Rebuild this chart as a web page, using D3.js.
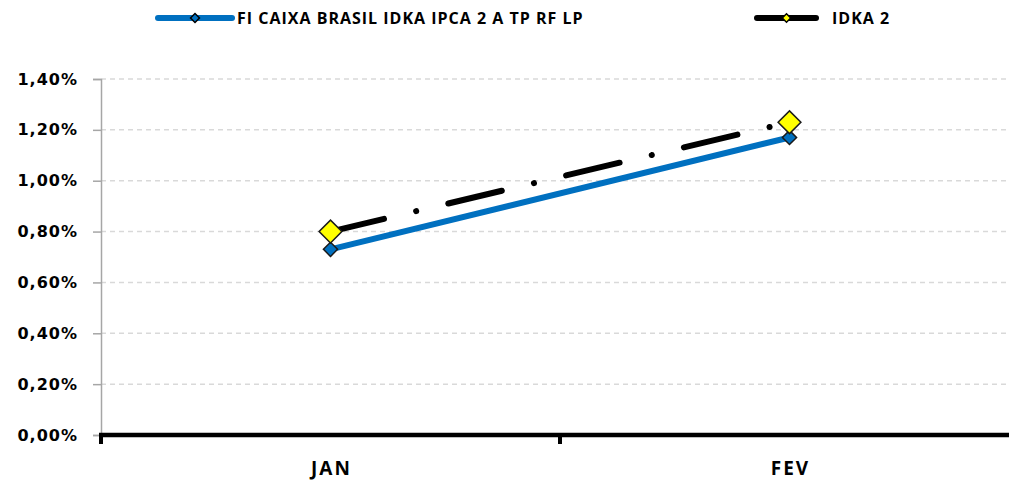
<!DOCTYPE html>
<html>
<head>
<meta charset="utf-8">
<script src="https://cdn.jsdelivr.net/npm/d3@7"></script>
<style>
  body { margin: 0; background: #fff; }
  svg { display: block; }
  .tick-label { font-family: "DejaVu Sans", sans-serif; font-weight: bold; font-size: 16px; letter-spacing: 1px; fill: #000; }
  .x-label { font-family: "Open Sans", sans-serif; font-weight: bold; font-size: 19px; letter-spacing: 2px; fill: #000; }
  .legend-text { font-family: "Open Sans", sans-serif; font-weight: bold; font-size: 16px; letter-spacing: 1px; fill: #000; }
</style>
</head>
<body>
<div id="chart"></div>
<script>
const months = ["JAN", "FEV"];
const fundValues = [0.0073, 0.0117];
const idkaValues = [0.0080, 0.0123];
const yTicks = [0, 0.002, 0.004, 0.006, 0.008, 0.010, 0.012, 0.014];
const seriesNames = ["FI CAIXA BRASIL IDKA IPCA 2 A TP RF LP", "IDKA 2"];

const width = 1009, height = 480;
const margin = {top: 79, right: 0, bottom: 45, left: 101};

const svg = d3.select("#chart").append("svg")
    .attr("width", width)
    .attr("height", height);

const yScale = d3.scaleLinear()
    .domain([0, 0.014])
    .range([height - margin.bottom, margin.top]);

// band continues past the right edge like the original
const xScale = d3.scaleBand()
    .domain(months)
    .range([margin.left, 1019])
    .padding(0);

const fmt = d => (d * 100).toFixed(2).replace(".", ",") + "%";

// gridlines
svg.append("g")
    .selectAll("line")
    .data(yTicks.filter(d => d > 0))
    .join("line")
    .attr("x1", margin.left)
    .attr("x2", width)
    .attr("y1", d => yScale(d))
    .attr("y2", d => yScale(d))
    .attr("stroke", "#d9d9d9")
    .attr("stroke-width", 1.5)
    .attr("stroke-dasharray", "5,4");

// y axis
const yAxis = d3.axisLeft(yScale)
    .tickValues(yTicks)
    .tickSize(8)
    .tickPadding(15)
    .tickFormat(fmt);

const yAxisG = svg.append("g")
    .attr("transform", `translate(${margin.left},0)`)
    .call(yAxis);
yAxisG.select(".domain").attr("stroke", "#a6a6a6").attr("stroke-width", 1.5);
yAxisG.selectAll(".tick line").attr("stroke", "#a6a6a6").attr("stroke-width", 1.5);
yAxisG.selectAll(".tick text").attr("class", "tick-label").attr("font-family", null).attr("font-size", null);

// x axis
const x0 = yScale(0);
svg.append("line")
    .attr("x1", margin.left - 2)
    .attr("x2", width)
    .attr("y1", x0)
    .attr("y2", x0)
    .attr("stroke", "#000")
    .attr("stroke-width", 4.5);

svg.append("g")
    .selectAll("line")
    .data(months)
    .join("line")
    .attr("x1", d => xScale(d))
    .attr("x2", d => xScale(d))
    .attr("y1", x0)
    .attr("y2", x0 + 9)
    .attr("stroke", "#000")
    .attr("stroke-width", 4);

svg.append("g")
    .selectAll("text")
    .data(months)
    .join("text")
    .attr("class", "x-label")
    .attr("x", d => xScale(d) + xScale.bandwidth() / 2 + 1)
    .attr("y", 475)
    .attr("text-anchor", "middle")
    .text(d => d);

// series
const line = d3.line()
    .x((d, i) => xScale(months[i]) + xScale.bandwidth() / 2)
    .y(d => yScale(d));

const diamond = d3.symbol().type(d3.symbolSquare);

svg.append("path")
    .datum(fundValues)
    .attr("d", line)
    .attr("fill", "none")
    .attr("stroke", "#0070c0")
    .attr("stroke-width", 6);

svg.append("path")
    .datum(idkaValues)
    .attr("d", line)
    .attr("fill", "none")
    .attr("stroke", "#000")
    .attr("stroke-width", 6)
    .attr("stroke-linecap", "round")
    .attr("stroke-dasharray", "55,33,0.1,33");

svg.append("g")
    .selectAll("path")
    .data(fundValues)
    .join("path")
    .attr("d", diamond.size(100))
    .attr("transform", (d, i) => `translate(${xScale(months[i]) + xScale.bandwidth() / 2},${yScale(d)}) rotate(45)`)
    .attr("fill", "#0070c0")
    .attr("stroke", "#1a1a1a")
    .attr("stroke-width", 1.5);

svg.append("g")
    .selectAll("path")
    .data(idkaValues)
    .join("path")
    .attr("d", diamond.size(260))
    .attr("transform", (d, i) => `translate(${xScale(months[i]) + xScale.bandwidth() / 2},${yScale(d)}) rotate(45)`)
    .attr("fill", "#ffff00")
    .attr("stroke", "#1a1a1a")
    .attr("stroke-width", 1.5);

// legend
const legend = [
    {name: seriesNames[0], x1: 158, x2: 232, color: "#0070c0", fill: "#0070c0", size: 40, tx: 237},
    {name: seriesNames[1], x1: 757, x2: 816, color: "#000", fill: "#ffff00", size: 36, tx: 832}
];
const legendY = 18;
const lg = svg.append("g");
legend.forEach(l => {
    lg.append("line")
        .attr("x1", l.x1).attr("x2", l.x2)
        .attr("y1", legendY).attr("y2", legendY)
        .attr("stroke", l.color)
        .attr("stroke-width", 6)
        .attr("stroke-linecap", "round");
    lg.append("path")
        .attr("d", diamond.size(l.size))
        .attr("transform", `translate(${(l.x1 + l.x2) / 2},${legendY}) rotate(45)`)
        .attr("fill", l.fill)
        .attr("stroke", "#000")
        .attr("stroke-width", 1.5);
    lg.append("text")
        .attr("class", "legend-text")
        .attr("x", l.tx)
        .attr("y", legendY + 6)
        .text(l.name);
});
</script>
</body>
</html>
